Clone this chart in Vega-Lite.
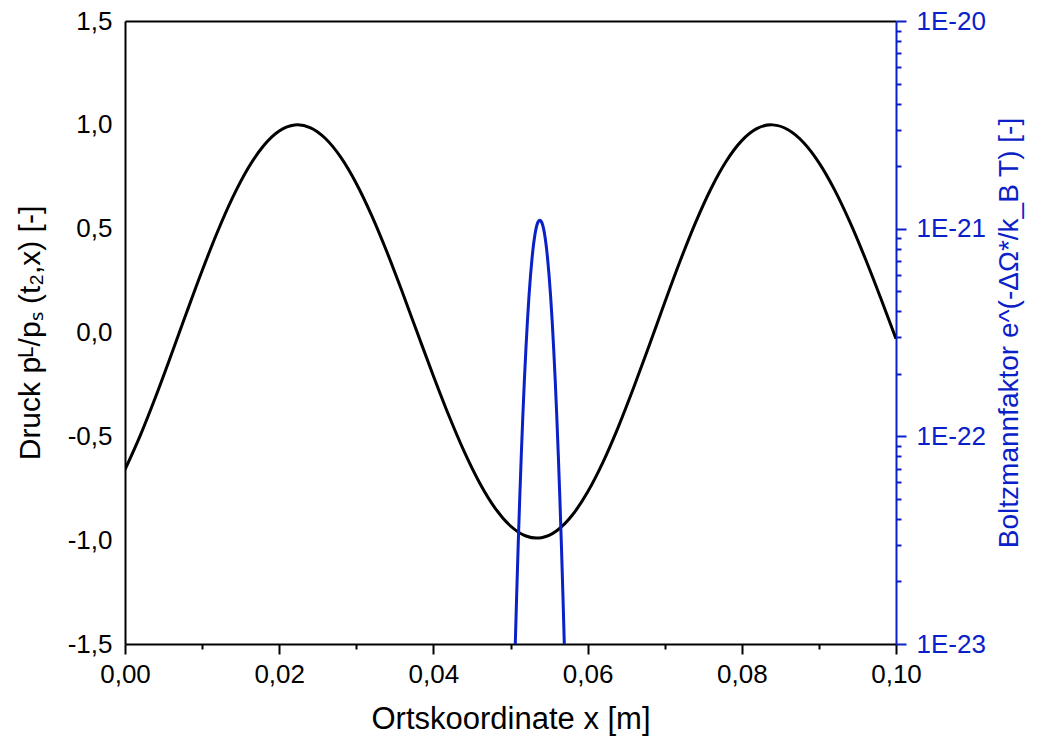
{
  "$schema": "https://vega.github.io/schema/vega-lite/v6.json",
  "width": 771,
  "height": 623,
  "autosize": "none",
  "padding": {"left": 125, "top": 21, "right": 142, "bottom": 101},
  "config": {
    "font": "Arial",
    "view": {"stroke": null},
    "axis": {"grid": false, "labelFlush": false, "labelOverlap": false, "labelBound": false, "domainWidth": 2, "tickWidth": 2, "labelFontSize": 26, "titleFontSize": 30, "titleFontWeight": "normal", "labelFont": "Arial", "titleFont": "Arial"}
  },
  "layer": [
    {
      "data": {"values": [
        {"x": 0, "p": -0.6603}, {"x": 0.002, "p": -0.4941}, {"x": 0.004, "p": -0.3070}, {"x": 0.006, "p": -0.1073},
        {"x": 0.008, "p": 0.0971}, {"x": 0.010, "p": 0.2974}, {"x": 0.012, "p": 0.4851}, {"x": 0.014, "p": 0.6528},
        {"x": 0.016, "p": 0.7932}, {"x": 0.018, "p": 0.9003}, {"x": 0.020, "p": 0.9700}, {"x": 0.022, "p": 0.9992},
        {"x": 0.0224, "p": 1.0}, {"x": 0.024, "p": 0.9869}, {"x": 0.026, "p": 0.9342}, {"x": 0.028, "p": 0.8432},
        {"x": 0.030, "p": 0.7178}, {"x": 0.032, "p": 0.5630}, {"x": 0.034, "p": 0.3851}, {"x": 0.036, "p": 0.1914},
        {"x": 0.038, "p": -0.0100}, {"x": 0.040, "p": -0.2091}, {"x": 0.042, "p": -0.3997}, {"x": 0.044, "p": -0.5737},
        {"x": 0.046, "p": -0.7244}, {"x": 0.048, "p": -0.8455}, {"x": 0.050, "p": -0.9318}, {"x": 0.052, "p": -0.9800},
        {"x": 0.0534, "p": -0.99}, {"x": 0.054, "p": -0.9881}, {"x": 0.056, "p": -0.9545}, {"x": 0.058, "p": -0.8802},
        {"x": 0.060, "p": -0.7684}, {"x": 0.062, "p": -0.6242}, {"x": 0.064, "p": -0.4531}, {"x": 0.066, "p": -0.2627},
        {"x": 0.068, "p": -0.0613}, {"x": 0.070, "p": 0.1442}, {"x": 0.072, "p": 0.3442}, {"x": 0.074, "p": 0.5294},
        {"x": 0.076, "p": 0.6924}, {"x": 0.078, "p": 0.8257}, {"x": 0.080, "p": 0.9239}, {"x": 0.082, "p": 0.9827},
        {"x": 0.0838, "p": 1.0}, {"x": 0.084, "p": 0.9998}, {"x": 0.086, "p": 0.9765}, {"x": 0.088, "p": 0.9152},
        {"x": 0.090, "p": 0.8183}, {"x": 0.092, "p": 0.6894}, {"x": 0.094, "p": 0.5337}, {"x": 0.096, "p": 0.3574},
        {"x": 0.098, "p": 0.1671}, {"x": 0.100, "p": -0.0297}
      ]},
      "mark": {"type": "line", "color": "black", "strokeWidth": 3, "interpolate": "monotone", "clip": true},
      "encoding": {
        "x": {"field": "x", "type": "quantitative",
          "scale": {"domain": [0, 0.1], "nice": false, "zero": false},
          "axis": {"orient": "bottom", "title": "Ortskoordinate x [m]", "titleFontSize": 31, "values": [0, 0.01, 0.02, 0.03, 0.04, 0.05, 0.06, 0.07, 0.08, 0.09, 0.1],
            "labelExpr": "abs(datum.value*50 - round(datum.value*50)) < 0.001 ? replace(format(datum.value, '.2f'), '.', ',') : ''",
            "tickSize": {"condition": {"test": "abs(datum.value*50 - round(datum.value*50)) < 0.001", "value": 10}, "value": 5},
            "labelPadding": 7, "titlePadding": 17, "domainColor": "black", "tickColor": "black", "labelColor": "black", "titleColor": "black"}},
        "y": {"field": "p", "type": "quantitative",
          "scale": {"domain": [-1.5, 1.5], "nice": false, "zero": false},
          "axis": {"orient": "left", "title": "Druck pᴸ/pₛ (t₂,x) [-]", "values": [-1.5, -1, -0.5, 0, 0.5, 1, 1.5],
            "labelExpr": "replace(replace(format(datum.value, '.1f'), '.', ','), '−', '-')",
            "ticks": false, "tickSize": 0, "labelPadding": 13, "titlePadding": 22, "domainColor": "black", "labelColor": "black", "titleColor": "black"}}
      }
    },
    {
      "data": {"values": [
        {"x": 0.0504, "b": 4.920e-24}, {"x": 0.0506, "b": 9.397e-24}, {"x": 0.0508, "b": 1.718e-23}, {"x": 0.0510, "b": 3.013e-23},
        {"x": 0.0512, "b": 5.058e-23}, {"x": 0.0514, "b": 8.128e-23}, {"x": 0.0516, "b": 1.256e-22}, {"x": 0.0518, "b": 1.862e-22},
        {"x": 0.0520, "b": 2.642e-22}, {"x": 0.0522, "b": 3.614e-22}, {"x": 0.0524, "b": 4.742e-22}, {"x": 0.0526, "b": 5.970e-22},
        {"x": 0.0528, "b": 7.244e-22}, {"x": 0.0530, "b": 8.462e-22}, {"x": 0.0532, "b": 9.517e-22}, {"x": 0.0534, "b": 1.0328e-21},
        {"x": 0.0536, "b": 1.0814e-21}, {"x": 0.0538, "b": 1.0965e-21}, {"x": 0.0540, "b": 1.0814e-21}, {"x": 0.0542, "b": 1.0328e-21},
        {"x": 0.0544, "b": 9.517e-22}, {"x": 0.0546, "b": 8.462e-22}, {"x": 0.0548, "b": 7.244e-22}, {"x": 0.0550, "b": 5.970e-22},
        {"x": 0.0552, "b": 4.742e-22}, {"x": 0.0554, "b": 3.614e-22}, {"x": 0.0556, "b": 2.642e-22}, {"x": 0.0558, "b": 1.862e-22},
        {"x": 0.0560, "b": 1.256e-22}, {"x": 0.0562, "b": 8.128e-23}, {"x": 0.0564, "b": 5.058e-23}, {"x": 0.0566, "b": 3.013e-23},
        {"x": 0.0568, "b": 1.718e-23}, {"x": 0.0570, "b": 9.397e-24}, {"x": 0.0572, "b": 4.920e-24}
      ]},
      "mark": {"type": "line", "color": "#0a20c8", "strokeWidth": 3, "interpolate": "monotone", "clip": true},
      "encoding": {
        "x": {"field": "x", "type": "quantitative",
          "scale": {"domain": [0, 0.1], "nice": false, "zero": false},
          "axis": {"orient": "top", "title": null, "labels": false, "ticks": false, "domainColor": "black"}},
        "y": {"field": "b", "type": "quantitative",
          "scale": {"type": "log", "domain": [1e-23, 1e-20], "nice": false},
          "axis": {"orient": "right", "title": "Boltzmannfaktor e^(-ΔΩ*/k_B T) [-]", "titleAngle": 270, "titleBaseline": "top", "titleFontSize": 28,
            "values": [1e-23, 2e-23, 3e-23, 4e-23, 5e-23, 6e-23, 7e-23, 8e-23, 9e-23, 1e-22, 2e-22, 3e-22, 4e-22, 5e-22, 6e-22, 7e-22, 8e-22, 9e-22, 1e-21, 2e-21, 3e-21, 4e-21, 5e-21, 6e-21, 7e-21, 8e-21, 9e-21, 1e-20],
            "labelExpr": "abs(log(datum.value)/LN10 - round(log(datum.value)/LN10)) < 0.001 ? '1E' + round(log(datum.value)/LN10) : ''",
            "tickSize": {"condition": {"test": "abs(log(datum.value)/LN10 - round(log(datum.value)/LN10)) < 0.001", "value": 10}, "value": 5},
            "labelPadding": 10, "titlePadding": 10, "domainColor": "#0a20c8", "tickColor": "#0a20c8", "labelColor": "#0a20c8", "titleColor": "#0a20c8"}}
      }
    }
  ],
  "resolve": {"scale": {"y": "independent"}, "axis": {"x": "independent", "y": "independent"}}
}
